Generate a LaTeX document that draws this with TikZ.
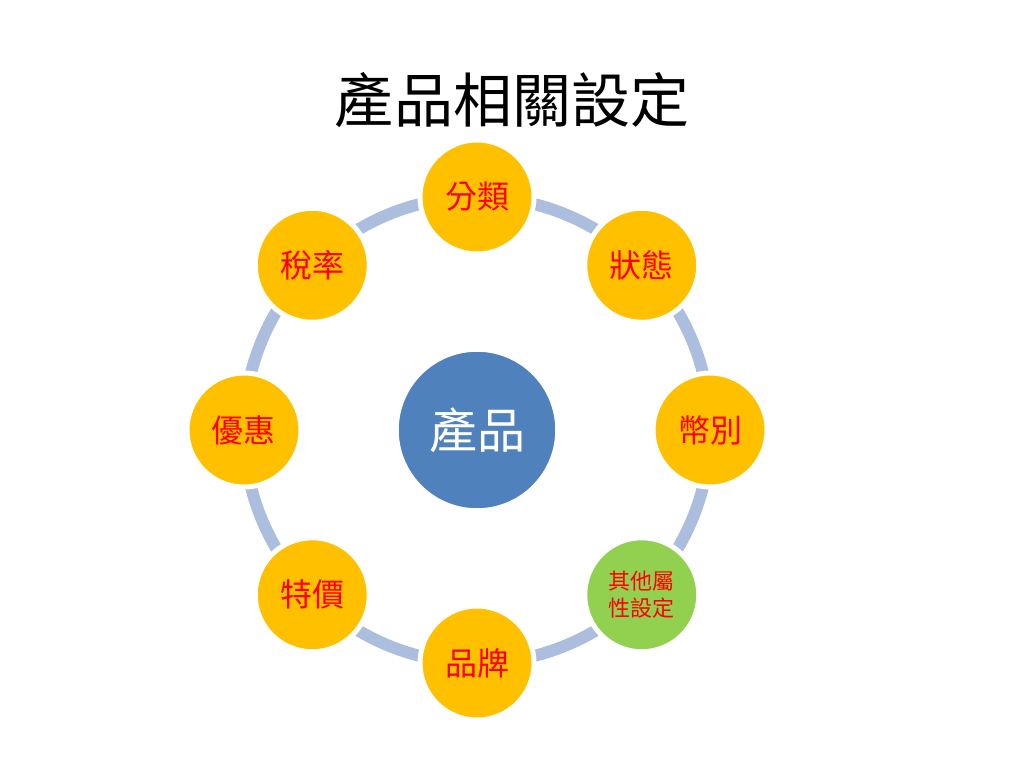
\documentclass[tikz,border=0pt]{standalone}
\usepackage{fontspec}
\setmainfont{Noto Sans CJK TC}
\usetikzlibrary{positioning}
\definecolor{ringblue}{RGB}{172,190,222}
\definecolor{prodblue}{RGB}{79,129,189}
\definecolor{propgold}{RGB}{255,192,0}
\definecolor{propgreen}{RGB}{146,208,80}
\tikzset{
x=1pt,y=1pt,
prod node/.style={circle,minimum size=158pt,inner sep=0pt,fill=prodblue,draw=white,line width=1.5pt,text=white,font=\fontsize{48}{52}\selectfont},
prop node/.style={circle,minimum size=114pt,inner sep=0pt,fill=propgold,draw=white,line width=5pt,text=red,font=\fontsize{32}{36}\selectfont},
ring line/.style={draw=ringblue,line width=12pt}}
\begin{document}
\begin{tikzpicture}

      \useasboundingbox (-477,-338) rectangle (547,430);

      \node (t) at (35,330) {\fontsize{59}{63}\selectfont 產品相關設定};

      \node[prod node] (0) at (0,0) {產品};
      \draw[ring line] (0.center) circle (233);

      \node[prop node] (1) at (90:233) {分類};
      \node[prop node] (2) at (45:233) {狀態};
      \node[prop node] (3) at (0:233) {幣別};
      \node[prop node,fill=propgreen,align=center,font=\fontsize{22}{27}\selectfont] (4) at (-45:233) {其他屬\\性設定};
      \node[prop node] (5) at (-90:233) {品牌};
      \node[prop node] (6) at (-135:233) {特價};
      \node[prop node] (7) at (180:233) {優惠};
      \node[prop node] (8) at (135:233) {稅率};
\end{tikzpicture}
\end{document}
